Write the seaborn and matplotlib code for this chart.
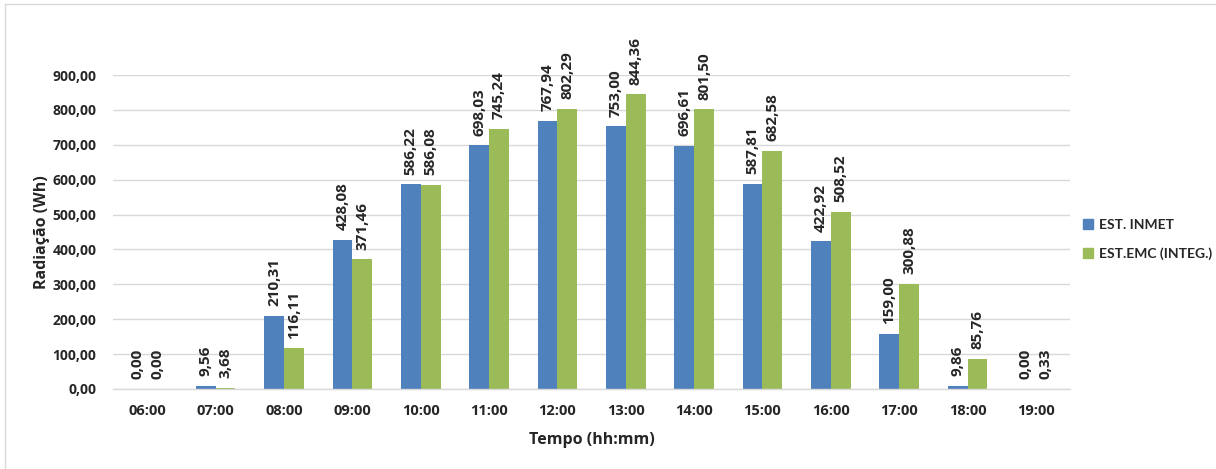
import matplotlib
matplotlib.use("Agg")
import matplotlib.pyplot as plt
import seaborn as sns
import pandas as pd
from matplotlib.lines import Line2D

hours = ["06:00", "07:00", "08:00", "09:00", "10:00", "11:00", "12:00",
         "13:00", "14:00", "15:00", "16:00", "17:00", "18:00", "19:00"]
inmet = [0.00, 9.56, 210.31, 428.08, 586.22, 698.03, 767.94,
         753.00, 696.61, 587.81, 422.92, 159.00, 9.86, 0.00]
emc = [0.00, 3.68, 116.11, 371.46, 586.08, 745.24, 802.29,
       844.36, 801.50, 682.58, 508.52, 300.88, 85.76, 0.33]
series_names = ["EST. INMET", "EST.EMC (INTEG.)"]
colors = ["#4F81BD", "#9BBB59"]
yticks = [0, 100, 200, 300, 400, 500, 600, 700, 800, 900]

df = pd.DataFrame({
    "Tempo": hours * 2,
    "Valor": inmet + emc,
    "Serie": [series_names[0]] * len(hours) + [series_names[1]] * len(hours),
})

sns.set_theme(style="white")
plt.rcParams["font.family"] = ["Open Sans", "DejaVu Sans"]

fig = plt.figure(figsize=(12.16, 4.69), dpi=100)
ax = fig.add_axes([0.093, 0.1706, 0.787, 0.6694])

sns.barplot(data=df, x="Tempo", y="Valor", hue="Serie", palette=colors,
            width=0.58, ax=ax, saturation=1, legend=False, linewidth=0)

ax.set_ylim(0, 900)
ax.set_xlim(-0.5, len(hours) - 0.5)
ax.set_yticks(yticks)
ax.set_yticklabels([f"{v:.2f}".replace(".", ",") for v in yticks],
                   fontsize=10, fontweight="bold", color="#262626")
ax.set_xticks(range(len(hours)))
ax.set_xticklabels(hours, fontsize=10.5, fontweight="bold", color="#262626")
ax.tick_params(axis="both", length=0)
ax.tick_params(axis="x", pad=11)
ax.tick_params(axis="y", pad=12)
ax.grid(axis="y", color="#D9D9D9", linewidth=1)
ax.set_axisbelow(True)
for s in ["top", "right", "left"]:
    ax.spines[s].set_visible(False)
ax.spines["bottom"].set_color("#D9D9D9")
ax.spines["bottom"].set_linewidth(1)

ax.set_ylabel("Radiação (Wh)", fontsize=11.5, fontweight="bold", color="#262626")
ax.yaxis.set_label_coords(-0.066, 0.5)
ax.set_xlabel("Tempo (hh:mm)", fontsize=11.5, fontweight="bold", color="#262626", labelpad=10)

for cont in ax.containers:
    ax.bar_label(cont, labels=[f"{b.get_height():.2f}".replace(".", ",") for b in cont],
                 rotation=90, padding=7, fontsize=11, fontweight="bold", color="#262626")

handles = [Line2D([0], [0], marker="s", linestyle="none", markersize=7,
                  markerfacecolor=c, markeredgecolor=c) for c in colors]
fig.legend(handles, series_names, loc="center left", bbox_to_anchor=(0.89, 0.49),
           frameon=False, prop={"family": ["Lato", "DejaVu Sans"], "weight": "bold", "size": 10},
           labelspacing=1.2, handlelength=0.8, handletextpad=0.4, borderaxespad=0, borderpad=0)

# light chart-area border
fig.add_artist(Line2D([5 / 1216, 1], [1 - 4.5 / 469, 1 - 4.5 / 469], color="#D9D9D9",
                      linewidth=1, transform=fig.transFigure))
fig.add_artist(Line2D([5 / 1216, 5 / 1216], [0, 1 - 4.5 / 469], color="#D9D9D9",
                      linewidth=1, transform=fig.transFigure))

fig.savefig("out.png", dpi=100, facecolor="white")
